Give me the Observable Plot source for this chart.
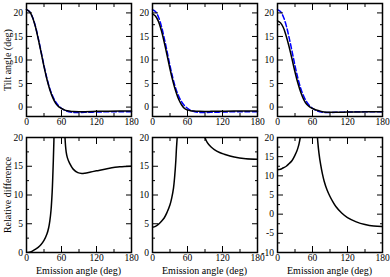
<!DOCTYPE html>
<html><head><meta charset="utf-8">
<script src="https://cdn.jsdelivr.net/npm/d3@7"></script>
<script src="https://cdn.jsdelivr.net/npm/@observablehq/plot@0.6"></script>
<style>
body{margin:0;background:#fff}
#chart{position:relative;width:390px;height:277px;font-family:"Liberation Serif",serif;color:#000;overflow:hidden}
#chart svg{position:absolute}
.ttl{position:absolute;font-size:10px;white-space:nowrap;line-height:1;font-family:"Liberation Serif",serif}
</style></head><body><div id="chart"></div><script>
// ---- data ----
const tiltAngles = [0,5,10,15,20,25,30,35,40,45,50,55,60,65,70,75,80,90,100,120,140,160,180];
const tiltExact  = [20.7,20.3,19.2,17.3,14.7,11.8,8.8,6.1,3.9,2.3,1.1,0.3,-0.25,-0.65,-0.9,-1.05,-1.12,-1.15,-1.12,-1.05,-1.0,-0.98,-0.97];
const tiltModelA = [20.7,20.3,19.15,17.2,14.55,11.6,8.6,5.9,3.7,2.0,0.8,0.1,-0.3,-0.6,-0.78,-0.9,-0.96,-0.99,-0.97,-0.9,-0.86,-0.84,-0.83];
const tiltModelB = [19.8,19.35,18.25,16.35,13.8,11.0,8.07,5.47,3.3,1.6,0.45,-0.3,-0.6,-0.8,-0.85,-0.88,-0.9,-0.92,-0.91,-0.87,-0.835,-0.82,-0.81];
const tiltModelC = [18.3,17.9,16.9,15.05,12.76,10.15,7.45,5.05,3.1,1.6,0.6,0.05,-0.3,-0.55,-0.73,-0.92,-1.02,-1.1,-1.1,-1.06,-1.02,-1.0,-1.0];

const relA1x = [0,5,10,15,20,25,30,35,38,40,42,44,45,46,47,48];
const relA1y = [0,0.05,0.25,0.55,0.9,1.4,2.1,3.2,4.3,5.5,7.3,10.5,13,16,19.5,24];
const relA2x = [65,66,68,70,74,80,88,95,100,110,120,140,160,180];
const relA2y = [24,20,17.5,16.5,15.5,14.5,13.9,13.75,13.8,14.0,14.2,14.6,14.9,15.0];

const relB1x = [0,5,10,15,20,25,30,33,36,38,40,41,42.3,43];
const relB1y = [4.4,4.55,4.9,5.4,6.0,7.0,8.3,9.5,11.2,13.2,16,18,20,22];
const relB2x = [88,90,94,100,106,115,123,140,160,180];
const relB2y = [22,20,19.1,18.4,17.9,17.4,17.1,16.6,16.3,16.2];

const relC1x = [0,5,10,15,20,25,30,33,35,37,39,40];
const relC1y = [11.6,11.7,12.1,12.5,13.2,14.0,15.4,16.4,17.3,18.4,20,21];
const relC2x = [67.5,69,71,74,77,80,85,90,95,100,110,120,135,150,165,180];
const relC2y = [22,19,16,12.9,10.5,8.6,6.3,4.6,3.2,2.0,0.3,-0.9,-2.0,-2.7,-3.1,-3.2];

const xMajor = [0,60,120,180];
const xMinor = [30,90,150];
const yTopMajor = [0,5,10,15,20];
const yTopMinor = [2.5,7.5,12.5,17.5];
const yRelMajor = [0,5,10,15,20];
const yRelMinor = [2.5,7.5,12.5,17.5];
const yRelCMajor = [-10,-5,0,5,10,15,20];
const yRelCMinor = [-7.5,-2.5,2.5,7.5,12.5,17.5];

const xTitle = "Emission angle (deg)";
const yTitleTop = "Tilt angle (deg)";
const yTitleBottom = "Relative difference";

// ---- layout ----
const chart = document.getElementById("chart");
const colLeft = [26,152,277];
const panelW = 105;
const rows = [{top:3,h:113},{top:137,h:115}];
const mL = 24, mR = 6, mT = 6, mB = 16;

function solid(xs, ys, clip){ return Plot.line(xs, {x: d=>d, y: ys, stroke:"black", strokeWidth:1.5, curve:"catmull-rom", clip}); }
function dashed(xs, ys){ return Plot.line(xs, {x: d=>d, y: ys, stroke:"#0000ff", strokeWidth:1.5, strokeDasharray:"5,2.5", curve:"catmull-rom"}); }

function panel(col, row, yDomain, yMaj, yMin, lineMarks){
  const r = rows[row];
  const svg = Plot.plot({
    width: panelW + mL + mR, height: r.h + mT + mB,
    marginLeft: mL, marginRight: mR, marginTop: mT, marginBottom: mB,
    x: {domain:[0,180]}, y: {domain:yDomain},
    style: {background:"transparent", fontFamily:"'Liberation Serif', serif", fontSize:"9.5px", color:"black", overflow:"visible"},
    marks: [
      ...lineMarks,
      Plot.axisX(xMajor, {anchor:"bottom", tickSize:-6, fill:"none", label:null}),
      Plot.axisX(xMinor, {anchor:"bottom", tickSize:-3, fill:"none", label:null}),
      Plot.axisX(xMajor, {anchor:"top", tickSize:-6, fill:"none", label:null}),
      Plot.axisX(xMinor, {anchor:"top", tickSize:-3, fill:"none", label:null}),
      Plot.axisY(yMaj, {anchor:"left", tickSize:-6, fill:"none", label:null}),
      Plot.axisY(yMin, {anchor:"left", tickSize:-3, fill:"none", label:null}),
      Plot.axisY(yMaj, {anchor:"right", tickSize:-6, fill:"none", label:null}),
      Plot.axisY(yMin, {anchor:"right", tickSize:-3, fill:"none", label:null}),
      Plot.axisX(xMajor, {anchor:"bottom", tickSize:0, tickPadding:2, label:null, tickFormat:d=>String(d)}),
      Plot.axisY(yMaj, {anchor:"left", tickSize:0, tickPadding:3.5, label:null, tickFormat:d=>String(d)}),
      Plot.frame({stroke:"black", strokeWidth:1.5})
    ]
  });
  svg.style.left = (colLeft[col]-mL)+"px";
  svg.style.top = (r.top-mT)+"px";
  chart.appendChild(svg);
}

panel(0,0,[-2,22],yTopMajor,yTopMinor,[dashed(tiltAngles,tiltExact), solid(tiltAngles,tiltModelA)]);
panel(1,0,[-2,22],yTopMajor,yTopMinor,[dashed(tiltAngles,tiltExact), solid(tiltAngles,tiltModelB)]);
panel(2,0,[-2,22],yTopMajor,yTopMinor,[dashed(tiltAngles,tiltExact), solid(tiltAngles,tiltModelC)]);
panel(0,1,[0,20],yRelMajor,yRelMinor,[solid(relA1x,relA1y,true), solid(relA2x,relA2y,true)]);
panel(1,1,[0,20],yRelMajor,yRelMinor,[solid(relB1x,relB1y,true), solid(relB2x,relB2y,true)]);
panel(2,1,[-10,20],yRelCMajor,yRelCMinor,[solid(relC1x,relC1y,true), solid(relC2x,relC2y,true)]);

function title(text, cx, cy, rot){
  const d = document.createElement("div");
  d.className = "ttl"; d.textContent = text;
  chart.appendChild(d);
  const w = d.offsetWidth, h = d.offsetHeight;
  d.style.left = (cx - w/2)+"px"; d.style.top = (cy - h/2)+"px";
  if (rot) d.style.transform = "rotate(-90deg)";
}
colLeft.forEach(l => title(xTitle, l + panelW/2, 270.5, false));
title(yTitleTop, 8, rows[0].top + rows[0].h/2, true);
title(yTitleBottom, 8, rows[1].top + rows[1].h/2, true);
</script></body></html>
